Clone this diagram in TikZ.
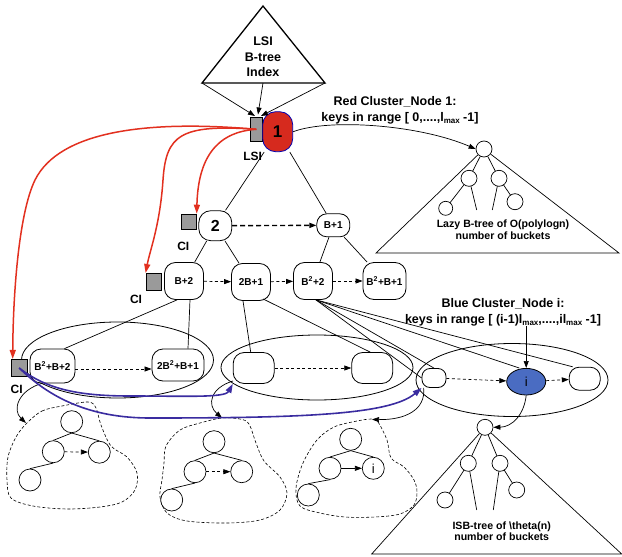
\documentclass[tikz,border=0pt]{standalone}
\usepackage{fontspec}
\setmainfont{Liberation Sans}
\usetikzlibrary{arrows.meta,shapes.geometric}

\definecolor{clusterred}{HTML}{D62A1E}
\definecolor{pointerred}{HTML}{E2301F}
\definecolor{clusterblue}{HTML}{4A6CC2}
\definecolor{pointerblue}{HTML}{3A2CA0}
\definecolor{indexgray}{HTML}{9A9A9A}

\newcommand{\lmax}{l\raisebox{-0.45ex}{\fontsize{8}{8}\selectfont max}}
\newcommand{\sqd}{\textsuperscript{2}}

\tikzset{
  keybox/.style={draw, fill=white, rounded corners=11pt, inner sep=0pt, line width=0.8pt, font=\bfseries\fontsize{10}{12}\selectfont},
  indexsq/.style={draw, fill=indexgray, inner sep=0pt, line width=0.7pt},
  bucket/.style={circle, draw, fill=white, inner sep=0pt, minimum size=16pt, line width=0.7pt},
  label12/.style={font=\bfseries\fontsize{12}{14}\selectfont, inner sep=0pt},
  heading/.style={font=\bfseries\fontsize{12.5}{15}\selectfont, inner sep=0pt},
  note/.style={font=\bfseries\fontsize{10.6}{12.4}\selectfont, align=center, inner sep=0pt},
  link/.style={line width=0.7pt},
  arr/.style={-{Triangle[length=7pt,width=5pt]}, line width=0.7pt},
  dasharr/.style={-{Triangle[length=7pt,width=5pt]}, dash pattern=on 3pt off 2.5pt, line width=0.7pt},
  redptr/.style={-{Triangle[length=9pt,width=6pt]}, draw=pointerred, line width=1.5pt},
  blueptr/.style={-{Triangle[length=9pt,width=6pt]}, draw=pointerblue, line width=1.6pt},
  blob/.style={dash pattern=on 3pt off 2pt, line width=0.6pt},
  cluster/.style={draw, ellipse, inner sep=0pt, line width=0.8pt},
}

\begin{document}
\begin{tikzpicture}[x=1pt, y=-1pt]
\useasboundingbox (0,0) rectangle (622,557);

% ---------- LSI B-tree index ----------
\coordinate (tA) at (263,6);
\coordinate (tL) at (202,83);
\coordinate (tR) at (325,83);
\coordinate (tM) at (263,83);
\draw[line width=1.3pt] (tA) -- (tR) -- (tL) -- cycle;
\node[heading, align=center, font=\bfseries\fontsize{12.5}{15.5}\selectfont] (lsitxt) at (263,57) {LSI\\B-tree\\Index};

% ---------- cluster ellipses ----------
\node[cluster, minimum width=192pt, minimum height=76pt] (ellL) at (117.5,360) {};
\node[cluster, minimum width=192pt, minimum height=65pt] (ellM) at (317,367.5) {};
\node[cluster, minimum width=192pt, minimum height=73pt] (ellR) at (512,380) {};

% ---------- cluster nodes ----------
\node[indexsq, minimum width=12.7pt, minimum height=24.7pt] (sqLSI) at (256.3,129.3) {};
\node[keybox, fill=clusterred, draw=blue!70!black, rounded corners=13pt, minimum width=30pt, minimum height=40pt, font=\bfseries\fontsize{17}{17}\selectfont] (n1) at (277.7,131.7) {1};
\node[label12] (lLSI) at (252.7,156.7) {LSI};

\node[keybox, rounded corners=12pt, minimum width=33pt, minimum height=30pt, font=\bfseries\fontsize{16}{16}\selectfont] (n2) at (215.3,225.7) {2};
\node[indexsq, minimum size=15.3pt] (sq2) at (188.7,221.7) {};
\node[label12] (lCI2) at (183.3,246.7) {CI};
\node[keybox, rounded corners=10pt, minimum width=33pt, minimum height=23pt] (nB1) at (333.3,225.3) {B+1};

\node[keybox, minimum width=39pt, minimum height=37pt] (nB2) at (184,281) {B+2};
\node[keybox, minimum width=39pt, minimum height=37pt] (n2B1) at (251,282) {2B+1};
\node[keybox, minimum width=39pt, minimum height=37pt] (nBB2) at (313,281) {B\sqd+2};
\node[keybox, minimum width=43pt, minimum height=37pt] (nBBB1) at (384.5,281) {B\sqd+B+1};
\node[indexsq, minimum width=15.7pt, minimum height=16.7pt] (sq3) at (153.8,281.7) {};
\node[label12] (lCI3) at (136,299) {CI};

\node[keybox, minimum width=45pt, minimum height=34pt] (nBBB2) at (52.5,366) {B\sqd+B+2};
\node[keybox, minimum width=52pt, minimum height=32pt] (n2BB1) at (178,365) {2B\sqd+B+1};
\node[indexsq, minimum width=16.3pt, minimum height=17.4pt] (sq4) at (19.2,368) {};
\node[label12] (lCI4) at (16.7,389) {CI};

\node[keybox, minimum width=41pt, minimum height=31pt] (mL) at (253.7,368) {};
\node[keybox, minimum width=41pt, minimum height=31pt] (mR) at (372.2,368) {};

\node[keybox, rounded corners=8pt, minimum width=24pt, minimum height=19pt] (rL) at (434,378) {};
\node[draw, ellipse, fill=clusterblue, inner sep=0pt, line width=0.8pt, minimum width=39pt, minimum height=26.6pt, font=\fontsize{13}{13}\selectfont] (ni) at (526.2,381.7) {i};
\node[keybox, rounded corners=10pt, minimum width=31pt, minimum height=23pt] (rR) at (584.7,378.7) {};

% ---------- headings ----------
\node[heading] (redT1) at (395,102) {Red Cluster\_Node 1:};
\node[heading] (redT2) at (400,118) {keys in range [ 0,....,\lmax{} -1]};
\node[heading] (blueT1) at (503,304) {Blue Cluster\_Node i:};
\node[heading] (blueT2) at (503,320) {keys in range [ (i-1)\lmax,....,i\lmax{} -1]};

% ---------- index pointers into the LSI ----------
\coordinate (inA) at (255,116);
\coordinate (inB) at (258,114.5);
\coordinate (inC) at (261,116);
\draw[arr] (tL) -- (inA);
\draw[arr] (tM) -- (inB);
\draw[arr] (tR) -- (inC);

% ---------- tree edges ----------
\draw[link] (n1) -- (n2);
\draw[link] (n1) -- (nB1);
\draw[link] (n2) -- (nB2);
\draw[link] (n2) -- (n2B1);
\draw[link] (nB1) -- (nBB2);
\draw[link] (nB1) -- (nBBB1);
\draw[link] ([xshift=-7pt]nB2.south) -- ([xshift=12pt]nBBB2.north);
\draw[link] ([xshift=6pt]nB2.south) -- ([xshift=10pt]n2BB1.north);
\draw[link] ([xshift=-8pt]n2B1.south) -- ([xshift=-3pt]mL.north);
\draw[link] ([xshift=12pt,yshift=2pt]n2B1.south) -- ([xshift=-2pt]mR.north);
\draw[link] ([xshift=3pt]nBB2.south) -- ([xshift=-12pt]rR.north);
\draw[link] ([xshift=3pt]nBB2.south) -- ([xshift=-7pt]ni.north);
\draw[link] ([xshift=3pt]nBB2.south) -- (rL.north);
\draw[link] ([xshift=3pt]nBB2.south) -- (rL.west);

% ---------- sibling links ----------
\draw[dasharr, line width=1.4pt, dash pattern=on 5pt off 3pt] (n2) -- (nB1);
\draw[dasharr] (nB2) -- (n2B1);
\draw[dasharr] (n2B1) -- (nBB2);
\draw[dasharr] (nBB2) -- (nBBB1);
\draw[dasharr] ([yshift=-3pt]nBBB2.east) -- ([yshift=-4pt]n2BB1.west);
\draw[dasharr] (mL) -- (mR);
\draw[dasharr] (rL) -- (ni);
\draw[dasharr] (ni) -- (rR);
\draw[arr] (blueT2.south -| ni) -- (ni.north);

% ---------- Lazy B-tree ----------
\node[bucket] (lzr) at (484,149) {};
\coordinate (lzBL) at (376,253);
\coordinate (lzBR) at (619,253);
\draw[link] (lzr) -- (lzBL) -- (lzBR) -- (lzr);
\coordinate (lze1) at (476.7,210);
\coordinate (lze2) at (492.3,210);
\draw[link] (lzr) -- (469,178.3) -- (445.7,208.3);
\draw[link] (lzr) -- (499,178.3) -- (515,201.7);
\draw[link] (469,178.3) -- (lze1);
\draw[link] (499,178.3) -- (lze2);
\node[bucket] (lz1) at (469,178.3) {};
\node[bucket] (lz2) at (499,178.3) {};
\node[bucket, minimum size=14pt] (lz3) at (445.7,208.3) {};
\node[bucket] (lz4) at (515,201.7) {};
\node[note] (lztxt) at (503,229.5) {Lazy B-tree of O(polylogn)\\number of buckets};
\draw[arr] (n1.east) .. controls (330,118) and (420,125) .. (lzr.west);

% ---------- ISB-tree ----------
\node[bucket] (isr) at (485,427.3) {};
\coordinate (isBL) at (371.7,554);
\coordinate (isBR) at (621.7,554);
\draw[link] (isr) -- (isBL) -- (isBR) -- (isr);
\coordinate (ise1) at (476.7,510);
\coordinate (ise2) at (493.3,510);
\draw[link] (isr) -- (468.3,463.3) -- (445,500);
\draw[link] (isr) -- (500,463.3) -- (516.7,490);
\draw[link] (468.3,463.3) -- (ise1);
\draw[link] (500,463.3) -- (ise2);
\node[bucket] (is1) at (468.3,463.3) {};
\node[bucket] (is2) at (500,463.3) {};
\node[bucket] (is3) at (445,500) {};
\node[bucket] (is4) at (516.7,490) {};
\node[note, font=\bfseries\fontsize{10.6}{11.2}\selectfont] (istxt) at (501.7,531) {ISB-tree of \textbackslash theta(n)\\number of buckets};

% ---------- bucket blobs ----------
\draw[blob] plot[smooth cycle, tension=0.55] coordinates {(26.7,423.3) (42,411) (62,406) (88,402) (96,408) (101,425) (111,446) (127,457) (137,473) (135,490) (122,502) (100,507) (67,509) (33,506) (11,498) (7,480) (8,457) (16,437)};
\draw[blob] plot[smooth cycle, tension=0.55] coordinates {(166,446) (180,430) (200,423) (222,418) (240,419) (249,424) (256,443) (264,461) (280,477) (287,493) (280,510) (260,520) (227,523) (187,521) (167,513) (160,497) (162,480) (164,463)};
\draw[blob] plot[smooth cycle, tension=0.55] coordinates {(372,419) (378,422) (387,440) (391,458) (404,467) (414,480) (417,492) (414,505) (400,514) (375,517) (345,517) (320,513) (300,506) (296,488) (303,463) (317,440) (334,427) (357,421)};
\coordinate (blob1top) at (26,423);
\coordinate (blob2top) at (222,418);
\coordinate (blob3top) at (372,419.5);

% trees inside the blobs
\node[bucket, minimum size=22pt] (b1a) at (71.7,421.7) {};
\node[bucket, minimum size=22pt] (b1b) at (53.3,451.7) {};
\node[bucket, minimum size=22pt] (b1c) at (99.3,452.2) {};
\node[bucket, minimum size=22pt] (b1d) at (30,480) {};
\draw[link] (b1a.south) -- (b1b.north);
\draw[link] (b1a.south) -- (b1c.north);
\draw[link] (b1b.south) -- (b1d.north);
\draw[dasharr] (b1b) -- (b1c);

\node[bucket, minimum size=22pt] (b2a) at (214,441.7) {};
\node[bucket, minimum size=22pt] (b2b) at (195,471.7) {};
\node[bucket, minimum size=22pt] (b2c) at (241.7,471.7) {};
\node[bucket, minimum size=22pt] (b2d) at (171.7,500) {};
\draw[link] (b2a.south) -- (b2b.north);
\draw[link] (b2a.south) -- (b2c.north);
\draw[link] (b2b.south) -- (b2d.north);
\draw[dasharr] (b2b) -- (b2c);

\node[bucket, minimum size=22pt] (b3a) at (350.7,439.3) {};
\node[bucket, minimum size=22pt] (b3b) at (330,468.3) {};
\node[bucket, minimum size=22pt, font=\fontsize{13}{13}\selectfont] (b3c) at (373.3,468.3) {i};
\node[bucket, minimum size=22pt] (b3d) at (308.3,495) {};
\draw[link] (b3a.south) -- (b3b.north);
\draw[link] (b3a.south) -- (b3c.north);
\draw[link] (b3b.south) -- (b3d.north);
\draw[arr] (b3b) -- (b3c);

% ---------- cluster to bucket pointers ----------
\coordinate (a1s) at (43,383);
\coordinate (a2s) at (233,381);
\draw[arr] (a1s) .. controls (18,390) and (12,410) .. (blob1top);
\draw[arr] (a2s) .. controls (210,388) and (207,405) .. (blob2top);
\draw[arr] ([xshift=2pt]rL.south west) .. controls (426,410) and (405,420) .. (blob3top);
\draw[arr] (ni.south) .. controls (524,415) and (512,427) .. (isr.east);

% ---------- LSI / CI pointers ----------
\draw[redptr] (sqLSI.center) .. controls (215,132) and (198,160) .. (sq2.north east);
\draw[redptr] (sqLSI.center) .. controls (180,124) and (166,135) .. (163,180) .. controls (160,225) and (150,250) .. (sq3.north west);
\draw[redptr] (sqLSI.center) .. controls (150,120) and (60,130) .. (35,180) .. controls (18,215) and (13,300) .. ([xshift=2pt]sq4.north west);

\draw[blueptr] (sq4.center) .. controls (45,388) and (75,396) .. (130,396) .. controls (185,396) and (225,398) .. (mL.south west);
\draw[blueptr] (sq4.center) .. controls (50,398) and (90,418) .. (150,418) .. controls (300,418) and (390,415) .. (rL.south west);
\end{tikzpicture}
\end{document}
